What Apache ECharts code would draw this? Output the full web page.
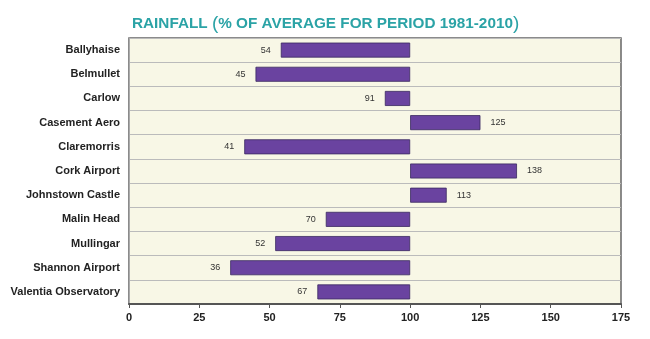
<!DOCTYPE html>
<html><head><meta charset="utf-8">
<script src="https://cdn.jsdelivr.net/npm/echarts@6/dist/echarts.min.js"></script>
<style>html,body{margin:0;padding:0;background:#fff}#c{width:650px;height:339px}</style>
</head><body><div id="c"></div>
<script>
const stations = ["Ballyhaise","Belmullet","Carlow","Casement Aero","Claremorris","Cork Airport","Johnstown Castle","Malin Head","Mullingar","Shannon Airport","Valentia Observatory"];
const rainfall = [54,45,91,125,41,138,113,70,52,36,67];
const xTicks = [0,25,50,75,100,125,150,175];
const baseline = 100;

const chart = echarts.init(document.getElementById('c'));
const baseData = rainfall.map(v => Math.min(v, baseline));
const deltaData = rainfall.map(v => ({
  value: Math.abs(v - baseline),
  orig: v,
  label: { position: v < baseline ? 'left' : 'right' }
}));
chart.setOption({
  animation: false,
  title: {
    text: '{a|RAINFALL }{p|(}{a|% OF AVERAGE FOR PERIOD 1981-2010}{p|)}',
    left: 127, top: 9,
    textStyle: {
      rich: {
        a: { fontFamily: '"Liberation Sans Narrow","Arial Narrow","Liberation Sans",sans-serif', fontWeight: 'bold', fontSize: 15.3, color: '#2ba3a6' },
        p: { fontFamily: '"Liberation Sans Narrow","Arial Narrow","Liberation Sans",sans-serif', fontWeight: 'normal', fontSize: 19, color: '#2ba3a6' }
      }
    }
  },
  grid: { left: 129, right: 29, top: 38, bottom: 35, show: true, backgroundColor: '#f8f7e6', borderColor: '#666', borderWidth: 1.5 },
  xAxis: {
    type: 'value', min: xTicks[0], max: xTicks[xTicks.length-1], interval: 25,
    axisLine: { show: true, lineStyle: { color: '#555', width: 2 } },
    axisTick: { show: true, length: 4, lineStyle: { color: '#555' } },
    splitLine: { show: false },
    axisLabel: { color: '#222', fontWeight: 'bold', fontSize: 11, fontFamily: '"Liberation Sans",Arial,sans-serif', margin: 8 }
  },
  yAxis: {
    type: 'category', data: stations, inverse: true,
    axisLine: { show: true, lineStyle: { color: '#aaa' } },
    axisTick: { show: false },
    splitLine: { show: true, lineStyle: { color: '#bbb', width: 1 } },
    axisLabel: { color: '#222', fontWeight: 'bold', fontSize: 11, fontFamily: '"Liberation Sans",Arial,sans-serif', margin: 9 }
  },
  series: [
    { type: 'bar', stack: 's', data: baseData, itemStyle: { color: 'transparent' }, barWidth: 15, silent: true },
    { type: 'bar', stack: 's', data: deltaData, barWidth: 15,
      itemStyle: { color: '#6a43a0', borderColor: '#3a2860', borderWidth: 0.8 },
      label: { show: true, distance: 10, color: '#333', fontSize: 9, fontFamily: '"Liberation Sans",Arial,sans-serif',
        formatter: p => p.data.orig }
    }
  ]
});
</script></body></html>
